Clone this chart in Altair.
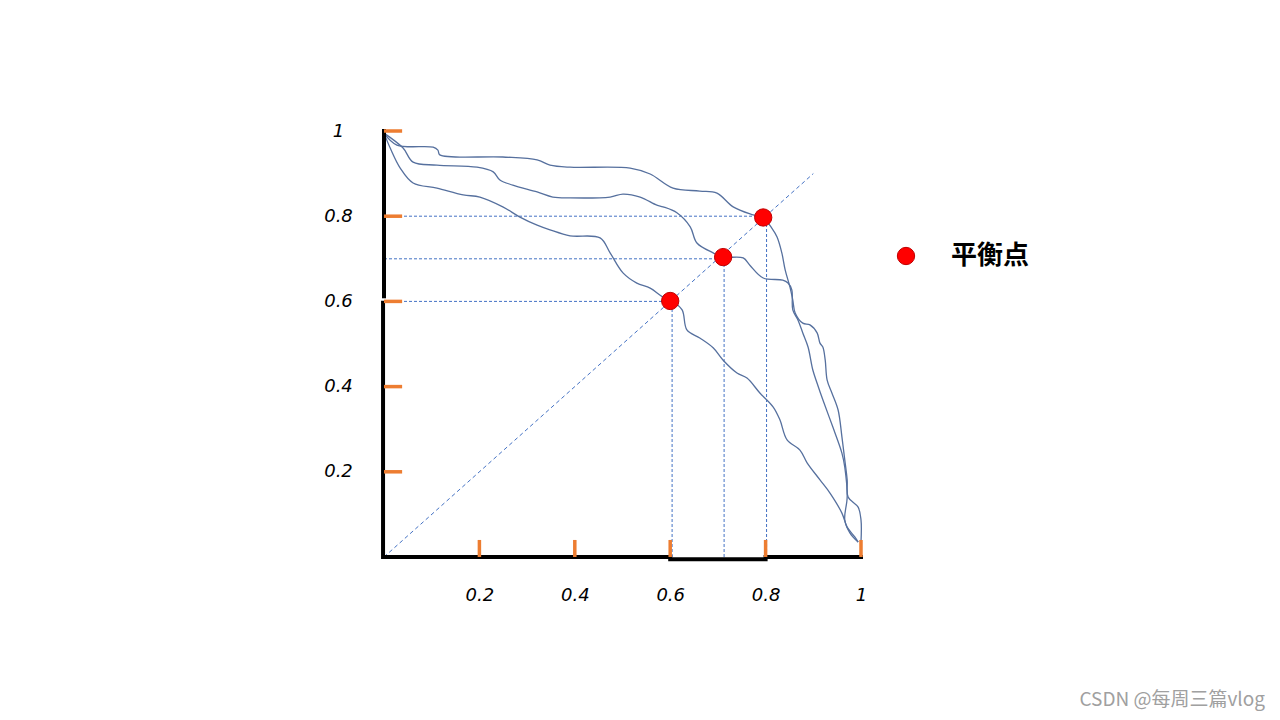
import altair as alt
import pandas as pd

# ---- curve data ----
a_x = [0.000, 0.027, 0.103, 0.113, 0.117, 0.249, 0.321, 0.348, 0.390, 0.516, 0.558, 0.606,
       0.662, 0.698, 0.732, 0.774, 0.795, 0.813, 0.824, 0.834, 0.841, 0.851, 0.857, 0.862,
       0.878, 0.893, 0.908, 0.914, 0.920, 0.925, 0.929, 0.939, 0.952, 0.960, 0.966, 0.971,
       0.973, 0.994, 1.000, 1.000]
a_y = [0.995, 0.967, 0.962, 0.955, 0.944, 0.939, 0.932, 0.920, 0.915, 0.913, 0.899, 0.866,
       0.859, 0.854, 0.822, 0.803, 0.796, 0.772, 0.751, 0.714, 0.674, 0.634, 0.603, 0.573,
       0.549, 0.545, 0.526, 0.502, 0.493, 0.462, 0.415, 0.385, 0.345, 0.282, 0.228, 0.181,
       0.141, 0.117, 0.087, 0.035]

b_x = [0.000, 0.040, 0.061, 0.111, 0.195, 0.229, 0.243, 0.270, 0.321, 0.354, 0.390, 0.474,
       0.501, 0.537, 0.572, 0.585, 0.614, 0.642, 0.656, 0.690, 0.711, 0.753, 0.767, 0.795,
       0.836, 0.847, 0.855, 0.857, 0.868, 0.878, 0.889, 0.899, 0.908, 0.920, 0.941, 0.960,
       0.966, 0.971, 0.966, 0.977, 0.994]
b_y = [0.995, 0.960, 0.927, 0.920, 0.915, 0.904, 0.885, 0.873, 0.857, 0.845, 0.843, 0.845,
       0.852, 0.845, 0.826, 0.822, 0.808, 0.775, 0.737, 0.714, 0.704, 0.702, 0.685, 0.655,
       0.650, 0.643, 0.627, 0.580, 0.556, 0.526, 0.493, 0.439, 0.408, 0.369, 0.305, 0.244,
       0.211, 0.141, 0.087, 0.056, 0.035]

c_x = [0.000, 0.013, 0.034, 0.061, 0.111, 0.166, 0.201, 0.249, 0.285, 0.321, 0.348, 0.390,
       0.453, 0.474, 0.501, 0.530, 0.558, 0.585, 0.604, 0.625, 0.635, 0.662, 0.690, 0.711,
       0.740, 0.761, 0.788, 0.816, 0.830, 0.845, 0.872, 0.887, 0.914, 0.935, 0.960, 0.971,
       0.987, 0.994]
c_y = [0.995, 0.960, 0.913, 0.878, 0.866, 0.850, 0.845, 0.822, 0.798, 0.779, 0.768, 0.754,
       0.749, 0.714, 0.667, 0.643, 0.631, 0.610, 0.601, 0.580, 0.533, 0.514, 0.491, 0.462,
       0.432, 0.420, 0.385, 0.352, 0.322, 0.275, 0.251, 0.221, 0.181, 0.150, 0.103, 0.070,
       0.047, 0.035]

# balance points and their guide lines
bal_x = [0.600, 0.711, 0.795]
bal_y = [0.601, 0.704, 0.797]
guide_x = [0.604, 0.713, 0.802]
guide_y = [0.600, 0.700, 0.800]

tick_vals = [0.2, 0.4, 0.6, 0.8, 1.0]
diag_end = 0.9
legend_label = "平衡点"
watermark = "CSDN @每周三篇vlog"

# ---- tables ----
rows = []
for name, xs, ys in (("A", a_x, a_y), ("B", b_x, b_y), ("C", c_x, c_y)):
    for i, (xv, yv) in enumerate(zip(xs, ys)):
        rows.append({"curve": name, "i": i, "x": xv, "y": yv})
curves = pd.DataFrame(rows)

points = pd.DataFrame({"x": bal_x, "y": bal_y, "label": [legend_label] * 3})
hguides = pd.DataFrame({"x": [0.0] * 3, "x2": bal_x, "y": guide_y})
vguides = pd.DataFrame({"x": guide_x, "y": [0.0] * 3, "y2": bal_y})
diag = pd.DataFrame({"x": [0.0], "y": [0.0], "x2": [diag_end], "y2": [diag_end]})

axis_segs = pd.DataFrame({
    "x":  [0.0, -0.002, 0.0, 0.6, 0.8],
    "x2": [0.0, -0.002, 0.6, 0.8, 1.0],
    "y":  [0.612, 0.0, 0.0, -0.005, 0.0],
    "y2": [1.0, 0.597, 0.0, -0.005, 0.0],
})
TICK_LEN_X = 0.038
TICK_LEN_Y = 0.040
yticks = pd.DataFrame({"x": [0.0] * 5, "x2": [TICK_LEN_X] * 5, "y": tick_vals})
xticks = pd.DataFrame({"x": tick_vals, "y": [0.0] * 5, "y2": [TICK_LEN_Y] * 5})
wm = pd.DataFrame({"t": [watermark]})

# ---- shared scales / axes ----
label_font = "DejaVu Sans"
xaxis = alt.Axis(values=tick_vals, format=".1~f", grid=False, domain=False, ticks=False,
                 tickSize=0, labelPadding=29, labelFont=label_font, labelFontSize=18,
                 labelFontStyle="italic", labelColor="black", labelFlush=False,
                 labelOverlap=False, labelBound=False, title=None)
yaxis = alt.Axis(values=tick_vals, format=".1~f", grid=False, domain=False, ticks=False,
                 tickSize=0, labelPadding=46, labelAlign="center", labelBaseline="middle",
                 labelFont=label_font, labelFontSize=18, labelFontStyle="italic",
                 labelColor="black", labelFlush=False, labelOverlap=False,
                 labelBound=False, title=None)
sc = alt.Scale(domain=[0, 1], nice=False, zero=False)


def X(f):
    return alt.X(f, type="quantitative", scale=sc, axis=xaxis)


def Y(f):
    return alt.Y(f, type="quantitative", scale=sc, axis=yaxis)


GUIDE = "#4472C4"

diag_l = alt.Chart(diag).mark_rule(color=GUIDE, strokeWidth=1, strokeDash=[4, 3]).encode(
    x=X("x"), y=Y("y"), x2="x2", y2="y2")
h_l = alt.Chart(hguides).mark_rule(color=GUIDE, strokeWidth=1, strokeDash=[3, 2]).encode(
    x=X("x"), x2="x2", y=Y("y"))
v_l = alt.Chart(vguides).mark_rule(color=GUIDE, strokeWidth=1, strokeDash=[3, 2]).encode(
    x=X("x"), y=Y("y"), y2="y2")
curve_l = alt.Chart(curves).mark_line(color="#56709E", strokeWidth=1.3,
                                      interpolate="catmull-rom").encode(
    x=X("x"), y=Y("y"), detail="curve:N", order="i:Q")
axis_l = alt.Chart(axis_segs).mark_rule(color="black", strokeWidth=4, strokeCap="square").encode(
    x=X("x"), x2="x2", y=Y("y"), y2="y2")
ytick_l = alt.Chart(yticks).mark_rule(color="#ED7D31", strokeWidth=3.5).encode(
    x=X("x"), x2="x2", y=Y("y"))
xtick_l = alt.Chart(xticks).mark_rule(color="#ED7D31", strokeWidth=3.5).encode(
    x=X("x"), y=Y("y"), y2="y2")
pt_l = alt.Chart(points).mark_circle(size=300, opacity=1, stroke="#C00000", strokeWidth=1).encode(
    x=X("x"), y=Y("y"),
    color=alt.Color("label:N", scale=alt.Scale(domain=[legend_label], range=["#FF0000"]),
                    legend=alt.Legend(orient="none", legendX=509, legendY=112, padding=0,
                                      title=None, symbolType="circle", symbolSize=300,
                                      symbolStrokeColor="#C00000", symbolStrokeWidth=1,
                                      symbolOpacity=1, labelFont="Noto Sans CJK SC",
                                      labelFontSize=26, labelFontWeight="bold",
                                      labelColor="black", labelOffset=32)))
wm_l = alt.Chart(wm).mark_text(align="right", baseline="middle", fontSize=19,
                               font="Noto Sans CJK SC", color="#A0A0A0").encode(
    x=alt.value(881), y=alt.value(569), text="t:N")

chart = alt.layer(diag_l, h_l, v_l, curve_l, axis_l, ytick_l, xtick_l, pt_l, wm_l).properties(
    width=477, height=426,
    autosize=alt.AutoSizeParams(type="none"),
    padding={"left": 376, "top": 123, "right": 411, "bottom": 155},
    background="white",
).configure_view(strokeWidth=0, stroke=None)

chart.save("out.html", embed_options={"renderer": "svg", "actions": False})
